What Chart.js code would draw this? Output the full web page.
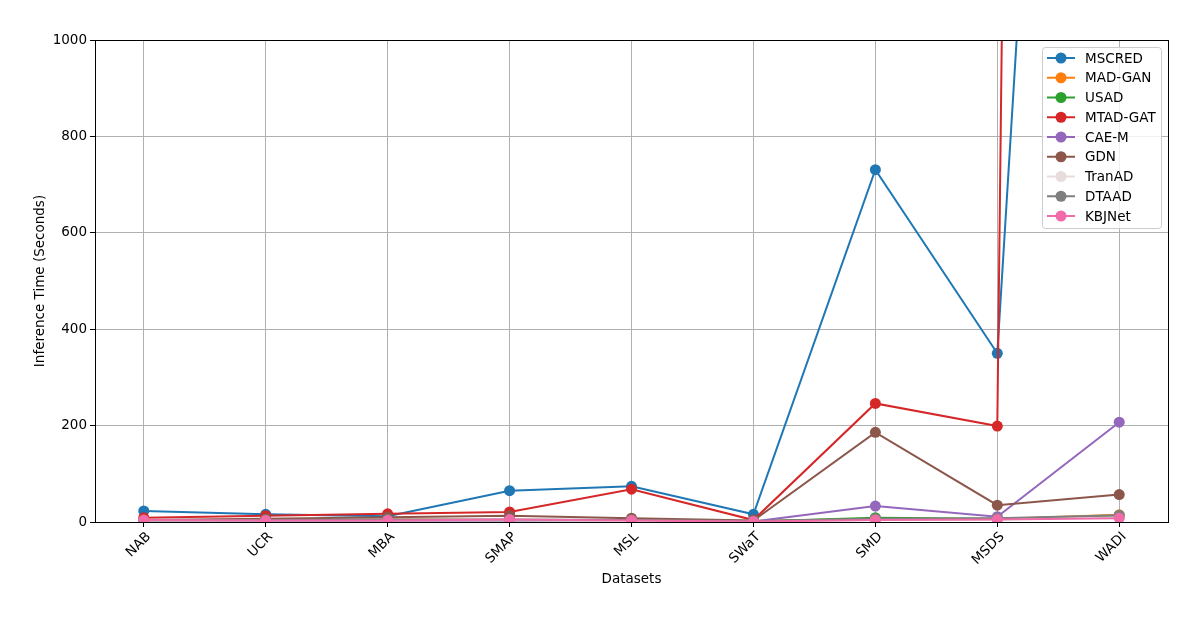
<!DOCTYPE html>
<html>
<head>
<meta charset="utf-8">
<title>Inference Time by Dataset</title>
<script src="https://cdn.jsdelivr.net/npm/chart.js@4.4.1/dist/chart.umd.min.js"></script>
<style>
  html, body { margin: 0; padding: 0; background: #fff; }
  #wrap { width: 1200px; height: 617px; }
</style>
</head>
<body>
<div id="wrap"><canvas id="chart" width="1200" height="617"></canvas></div>
<script>
/* ── Data ───────────────────────────────────────────────────────── */
const categories = ["NAB", "UCR", "MBA", "SMAP", "MSL", "SWaT", "SMD", "MSDS", "WADI"];
const seriesNames = ["MSCRED", "MAD-GAN", "USAD", "MTAD-GAT", "CAE-M", "GDN", "TranAD", "DTAAD", "KBJNet"];

const mscred  = [23, 16, 12, 65, 74, 16, 731, 350, 4450];
const madGan  = [3, 4, 5, 4, 3, 2, 6, 6, 15];
const usad    = [2, 3, 3, 3, 2, 1, 9, 7, 12];
const mtadGat = [9, 13, 17, 21, 68, 4, 246, 199, 22000];
const caeM    = [1, 1, 2, 2, 3, 1, 33, 11, 207];
const gdn     = [4, 7, 10, 13, 8, 3, 186, 35, 57];
const tranAd  = [2, 3, 3, 3, 2, 1, 4, 5, 10];
const dtaad   = [3, 4, 5, 5, 4, 2, 7, 8, 14];
const kbjNet  = [4, 3, 3, 5, 3, 1, 4, 5, 8];

const yTicks = [0, 200, 400, 600, 800, 1000];

const seriesValues = [mscred, madGan, usad, mtadGat, caeM, gdn, tranAd, dtaad, kbjNet];
const seriesColors = ["#1f77b4", "#ff7f0e", "#2ca02c", "#d62728", "#9467bd",
                      "#8c564b", "#e8dcdc", "#7f7f7f", "#f06ba8"];

/* ── Helpers ────────────────────────────────────────────────────── */
const FONT = "'DejaVu Sans', 'Liberation Sans', sans-serif";
const tickFont = { family: FONT, size: 13.5 };

// closed frame round the plot area (matplotlib spines)
const framePlugin = {
  id: "frame",
  afterDatasetsDraw(chart) {
    const { ctx, chartArea: a } = chart;
    ctx.save();
    ctx.strokeStyle = "#000";
    ctx.lineWidth = 1;
    ctx.strokeRect(Math.round(a.left) + 0.5, Math.round(a.top) + 0.5,
                   Math.round(a.right - a.left), Math.round(a.bottom - a.top));
    ctx.restore();
  }
};

// legend box inside the upper right corner, line + marker handles
const legendPlugin = {
  id: "boxLegend",
  afterDatasetsDraw(chart) {
    const { ctx, chartArea: a } = chart;
    const sets = chart.data.datasets;
    const w = 119, rowH = 19.75;
    const x0 = a.right - 7 - w, y0 = a.top + 7;
    const h = 11 + rowH * (sets.length - 1) + 12;
    ctx.save();
    ctx.beginPath();
    ctx.roundRect(x0 + 0.5, y0 + 0.5, w, h, 3);
    ctx.fillStyle = "rgba(255,255,255,0.8)";
    ctx.fill();
    ctx.strokeStyle = "#cccccc";
    ctx.lineWidth = 1;
    ctx.stroke();
    ctx.font = "13.5px " + FONT;
    ctx.textBaseline = "middle";
    ctx.textAlign = "left";
    sets.forEach((ds, i) => {
      const y = y0 + 11 + i * rowH;
      ctx.strokeStyle = ds.borderColor;
      ctx.lineWidth = 2;
      ctx.beginPath();
      ctx.moveTo(x0 + 5, y);
      ctx.lineTo(x0 + 33, y);
      ctx.stroke();
      ctx.fillStyle = ds.backgroundColor;
      ctx.beginPath();
      ctx.arc(x0 + 19, y, 5.5, 0, Math.PI * 2);
      ctx.fill();
      ctx.fillStyle = "#000";
      ctx.fillText(ds.label, x0 + 43, y + 1);
    });
    ctx.restore();
  }
};

/* ── Chart ──────────────────────────────────────────────────────── */
const datasets = seriesNames.map((name, i) => ({
  label: name,
  data: seriesValues[i].map((v, j) => ({ x: j, y: v })),
  borderColor: seriesColors[i],
  backgroundColor: seriesColors[i],
  borderWidth: 2,
  pointRadius: 5.5,
  pointHoverRadius: 5.5,
  pointBorderWidth: 0,
  tension: 0,
  order: seriesNames.length - 1 - i
}));

new Chart(document.getElementById("chart"), {
  type: "line",
  data: { datasets },
  options: {
    responsive: false,
    animation: false,
    events: [],
    layout: { padding: { top: 40, right: 32, left: 0, bottom: 0 } },
    plugins: { legend: { display: false }, tooltip: { enabled: false } },
    scales: {
      x: {
        type: "linear",
        min: -0.4,
        max: 8.4,
        afterBuildTicks: s => { s.ticks = categories.map((c, i) => ({ value: i })); },
        afterFit: s => { s.height = 95; },
        ticks: {
          callback: v => categories[v],
          minRotation: 45,
          maxRotation: 45,
          color: "#000",
          font: tickFont,
          padding: 2,
          labelOffset: 5
        },
        grid: { color: "#b0b0b0", tickColor: "#000", tickLength: 5, lineWidth: 1 },
        border: { color: "#000", width: 1 },
        title: {
          display: true, text: "Datasets", color: "#000",
          font: { family: FONT, size: 13.5 }, padding: { top: 0, bottom: 29 }
        }
      },
      y: {
        min: 0,
        max: 1000,
        afterBuildTicks: s => { s.ticks = yTicks.map(v => ({ value: v })); },
        afterFit: s => { s.width = 95; },
        ticks: { color: "#000", font: tickFont, padding: 3, callback: v => String(v) },
        grid: { color: "#b0b0b0", tickColor: "#000", tickLength: 5, lineWidth: 1 },
        border: { color: "#000", width: 1 },
        title: {
          display: true, text: "Inference Time (Seconds)", color: "#000",
          font: { family: FONT, size: 13.5 }, padding: { top: 32, bottom: 0 }
        }
      }
    }
  },
  plugins: [framePlugin, legendPlugin]
});
</script>
</body>
</html>
